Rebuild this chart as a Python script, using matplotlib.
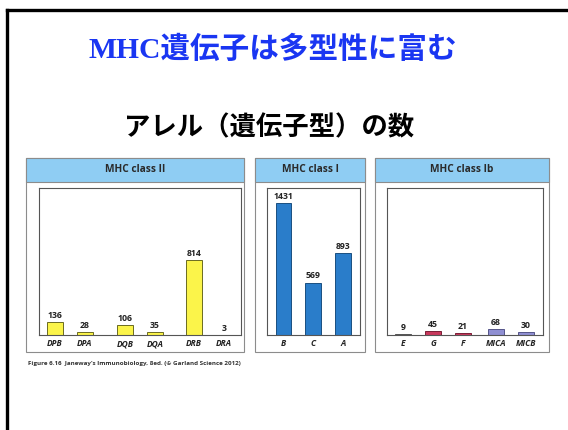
import matplotlib.pyplot as plt
from matplotlib.patches import Rectangle
from matplotlib.lines import Line2D

# allele counts per locus
class2_genes = ['DPB', 'DPA', 'DQB', 'DQA', 'DRB', 'DRA']
class2_counts = [136, 28, 106, 35, 814, 3]
class1_genes = ['B', 'C', 'A']
class1_counts = [1431, 569, 893]
class1b_genes = ['E', 'G', 'F', 'MICA', 'MICB']
class1b_counts = [9, 45, 21, 68, 30]
class1b_colors = ['#8a8a8a', '#c8385c', '#c8385c', '#8f8fd2', '#8f8fd2']
class1b_edges = ['#555555', '#7a1f36', '#7a1f36', '#55558a', '#55558a']

W, H = 568, 430
fig = plt.figure(figsize=(W / 100, H / 100), dpi=100)
plt.rcParams['font.family'] = ['Open Sans', 'DejaVu Sans']


def box(x0, y0, x1, y1):
    # pixel box (top-left origin) -> figure rect
    return [x0 / W, 1 - y1 / H, (x1 - x0) / W, (y1 - y0) / H]


# slide frame
fig.add_artist(Line2D([7 / W, 1], [1 - 10 / H, 1 - 10 / H], color='black', lw=2.4))
fig.add_artist(Line2D([7 / W, 7 / W], [1 - 10 / H, 0], color='black', lw=2.4))

fig.text(273 / W, 1 - 50 / H, 'MHC遺伝子は多型性に富む', ha='center', va='center',
         fontsize=21.3, fontweight='bold', color='#1a36f2',
         family=['Liberation Serif', 'Noto Sans CJK JP'])
fig.text(269 / W, 1 - 128 / H, 'アレル（遺伝子型）の数', ha='center', va='center',
         fontsize=19, fontweight='bold', color='black', family=['Noto Sans CJK JP'])


def panel(outer, axbox, title, xs, labels, counts, colors, edges, xlim):
    x0, y0, x1, y1 = outer
    fig.add_artist(Rectangle((x0 / W, 1 - y1 / H), (x1 - x0) / W, (y1 - y0) / H,
                             transform=fig.transFigure, facecolor='white',
                             edgecolor='#8c8c8c', lw=0.8, zorder=0))
    fig.add_artist(Rectangle((x0 / W, 1 - 182 / H), (x1 - x0) / W, (182 - y0) / H,
                             transform=fig.transFigure, facecolor='#8fcdf3',
                             edgecolor='#8c8c8c', lw=0.8, zorder=0))
    fig.text((x0 + x1) / 2 / W, 1 - 170 / H, title, ha='center', va='center',
             fontsize=7.3, fontweight='bold', color='#2a2a2a')
    ax = fig.add_axes(box(*axbox))
    ax.bar(xs, counts, width=0.53, color=colors, edgecolor=edges, linewidth=0.7)
    for x, c in zip(xs, counts):
        ax.annotate(str(c), (x, c), xytext=(0, 1.5), textcoords='offset points',
                    ha='center', va='bottom', fontsize=6.3, fontweight='bold', color='#222222')
    ax.set_xlim(*xlim)
    ax.set_ylim(0, 1595)
    ax.set_yticks([])
    ax.set_xticks(xs)
    ax.set_xticklabels(labels, fontsize=6, fontstyle='italic', fontweight='bold', color='#222222')
    ax.tick_params(axis='x', length=0, pad=3)
    for s in ax.spines.values():
        s.set_color('#555555')
        s.set_linewidth(0.8)
    return ax


# class II: three pairs with wider gaps between pairs
x2 = [0, 1, 2.33, 3.33, 4.63, 5.63]
panel((26, 158, 244, 352), (39, 188, 241, 335), 'MHC class II', x2, class2_genes,
      class2_counts, '#fbf44a', '#6b6b20', (-0.53, 6.2))

x1 = list(range(len(class1_genes)))
panel((255, 158, 365, 352), (267, 188, 360, 335), 'MHC class I', x1, class1_genes,
      class1_counts, '#2a7dca', '#1a4f80', (-0.55, 2.56))

xb = [0, 1, 2, 3.11, 4.11]
panel((375, 158, 549, 352), (387, 188, 543, 335), 'MHC class Ib', xb, class1b_genes,
      class1b_counts, class1b_colors, class1b_edges, (-0.54, 4.68))

fig.text(28 / W, 1 - 363 / H,
         'Figure 6.16  Janeway\u2019s Immunobiology, 8ed. (\u00a9 Garland Science 2012)',
         ha='left', va='center', fontsize=4.5, fontweight='bold', color='#333333')

fig.savefig('out.png', dpi=100)
